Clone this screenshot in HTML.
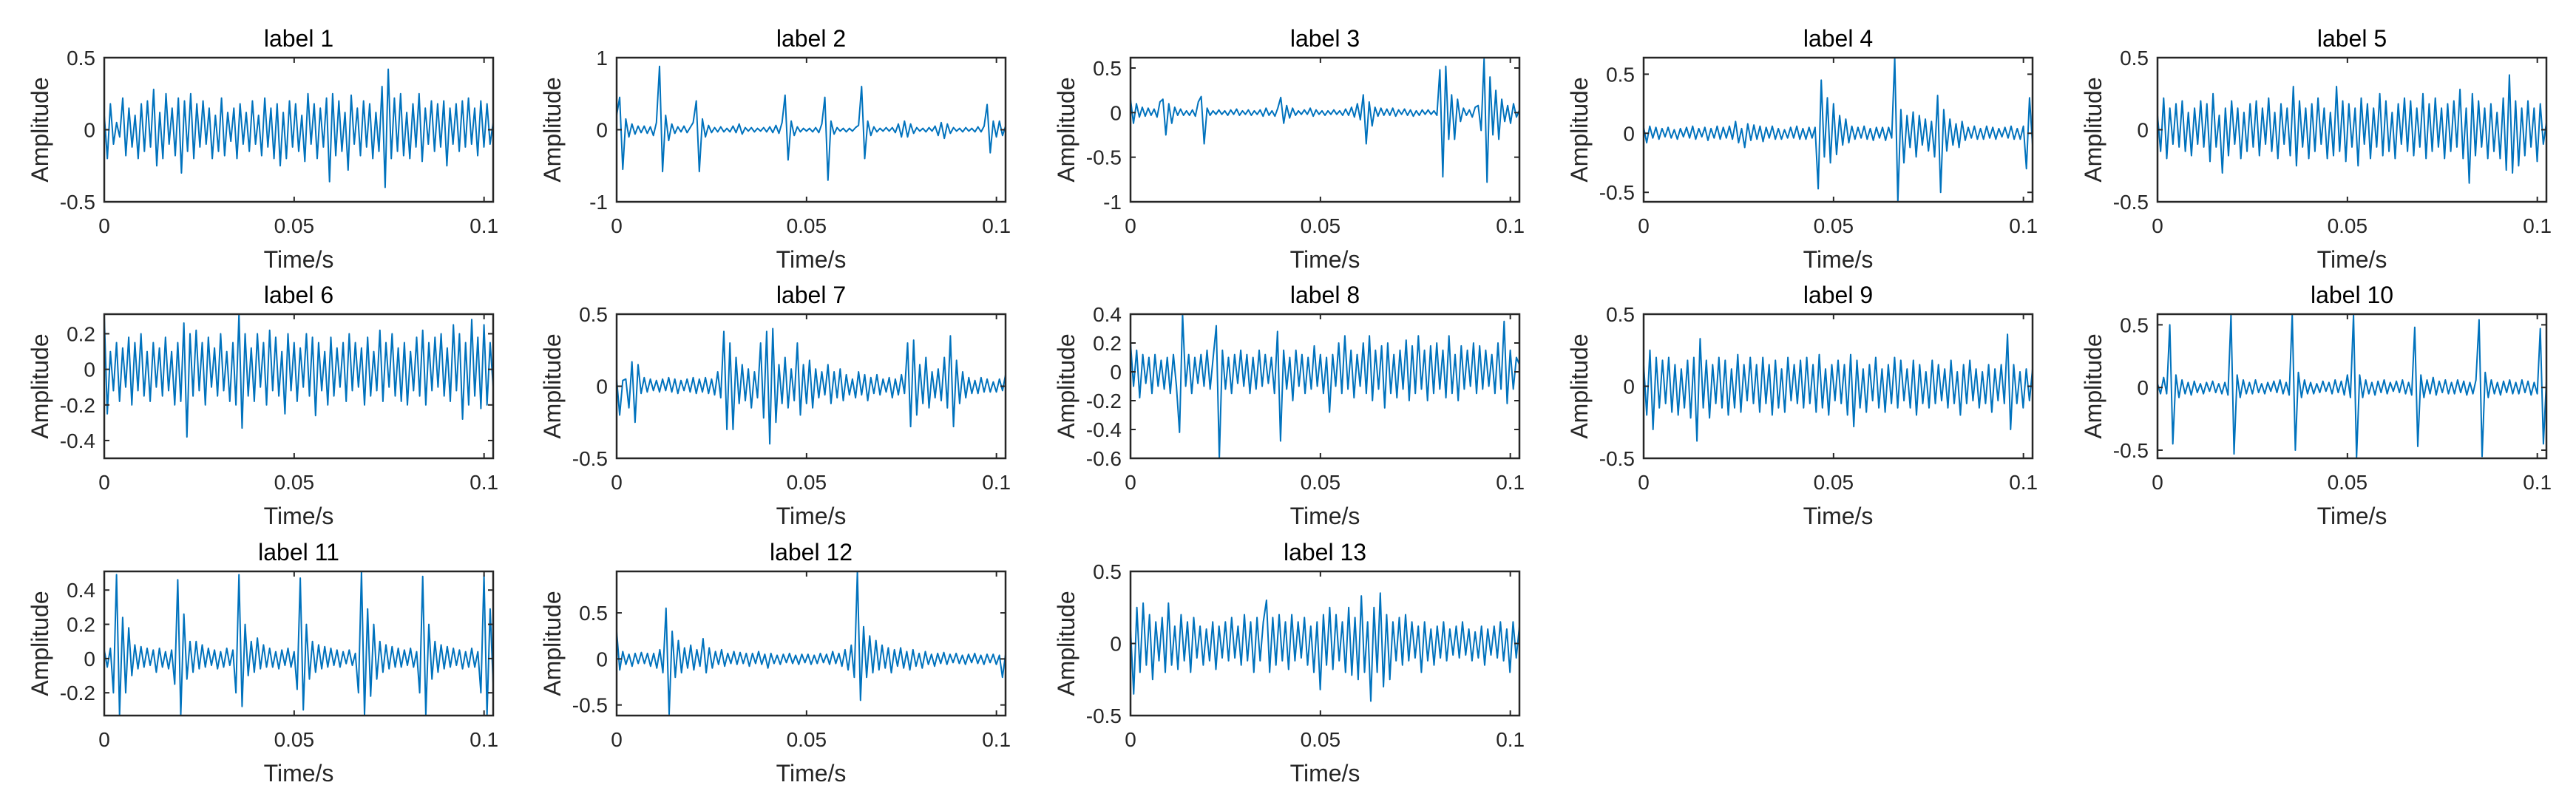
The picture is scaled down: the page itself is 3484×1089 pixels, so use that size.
<!DOCTYPE html>
<html><head><meta charset="utf-8"><style>
html,body{margin:0;padding:0;background:#fff;}
svg{display:block;font-family:"Liberation Sans",Arial,sans-serif;}
</style></head><body>
<svg id="fig" width="3484" height="1089" viewBox="0 0 3484 1089" xmlns="http://www.w3.org/2000/svg"></svg>
<script>
const titles = ["label 1","label 2","label 3","label 4","label 5","label 6","label 7","label 8","label 9","label 10","label 11","label 12","label 13"];
const xTicks = [0, 0.05, 0.1];
const xTickLabels = ["0","0.05","0.1"];
const xMax = 0.1024;
const yMins = [-0.5,-1,-1,-0.58,-0.5,-0.5,-0.5,-0.6,-0.5,-0.565,-0.333,-0.615,-0.5];
const yMaxs = [0.5,1,0.616,0.64,0.5,0.31,0.5,0.4,0.5,0.585,0.509,0.95,0.5];
const yTicks1 = [-0.5,0,0.5];
const yTicks2 = [-1,0,1];
const yTicks3 = [-1,-0.5,0,0.5];
const yTicks6 = [-0.4,-0.2,0,0.2];
const yTicks8 = [-0.6,-0.4,-0.2,0,0.2,0.4];
const yTicks11 = [-0.2,0,0.2,0.4];
const yTickSets = [yTicks1,yTicks2,yTicks3,yTicks1,yTicks1,yTicks6,yTicks1,yTicks8,yTicks1,yTicks1,yTicks11,yTicks1,yTicks1];

const s1 = [0.1,-0.2,0.18,-0.1,0.05,-0.05,0.22,-0.18,0.15,-0.12,0.1,-0.2,0.18,-0.15,0.2,-0.12,0.28,-0.25,0.12,-0.2,0.25,-0.1,0.15,-0.18,0.22,-0.3,0.2,-0.15,0.25,-0.2,0.18,-0.12,0.2,-0.1,0.15,-0.2,0.1,-0.15,0.22,-0.18,0.12,-0.08,0.15,-0.2,0.18,-0.1,0.12,-0.15,0.2,-0.1,0.1,-0.18,0.22,-0.12,0.15,-0.2,0.18,-0.25,0.12,-0.2,0.2,-0.12,0.18,-0.15,0.1,-0.22,0.25,-0.1,0.18,-0.2,0.15,-0.12,0.22,-0.36,0.25,-0.18,0.2,-0.15,0.12,-0.28,0.24,-0.1,0.15,-0.18,0.2,-0.12,0.18,-0.2,0.12,-0.15,0.3,-0.4,0.42,-0.2,0.22,-0.15,0.25,-0.18,0.12,-0.2,0.18,-0.12,0.25,-0.22,0.15,-0.1,0.2,-0.15,0.18,-0.12,0.2,-0.25,0.15,-0.1,0.18,-0.15,0.2,-0.12,0.22,-0.1,0.15,-0.18,0.2,-0.12,0.18,-0.1,0.05];
const s2 = [0.2,0.45,-0.55,0.15,-0.1,0.08,-0.06,0.05,-0.04,0.05,-0.05,0.04,-0.08,0.1,0.88,-0.58,0.2,-0.15,0.08,-0.05,0.04,-0.03,0.05,-0.04,0.03,0.1,0.4,-0.58,0.15,-0.1,0.06,-0.04,0.03,-0.03,0.04,-0.03,0.02,-0.03,0.05,-0.04,0.08,-0.06,0.03,-0.02,0.03,-0.03,0.02,-0.02,0.03,-0.03,0.04,-0.04,0.06,-0.05,0.1,0.48,-0.42,0.12,-0.08,0.04,-0.03,0.02,-0.02,0.02,-0.03,0.03,-0.04,0.08,0.45,-0.7,0.12,-0.06,0.03,-0.02,0.02,-0.03,0.02,-0.02,0.03,0.06,0.6,-0.4,0.12,-0.08,0.04,-0.03,0.02,-0.02,0.03,-0.02,0.03,-0.04,0.08,-0.1,0.12,-0.1,0.08,-0.05,0.03,-0.02,0.02,-0.03,0.03,-0.02,0.05,-0.08,0.1,-0.12,0.08,-0.05,0.03,-0.02,0.02,-0.03,0.03,-0.02,0.02,-0.03,0.04,-0.03,0.05,0.35,-0.32,0.12,-0.1,0.12,-0.08,0.05];
const s3 = [0.15,-0.12,0.1,-0.05,0.06,-0.04,0.05,-0.03,0.04,-0.05,0.12,0.15,-0.25,0.1,-0.12,0.06,-0.03,0.04,-0.03,0.02,-0.03,0.03,-0.04,0.12,0.18,-0.35,0.05,-0.03,0.02,-0.02,0.03,-0.02,0.02,-0.03,0.03,-0.02,0.04,-0.03,0.02,-0.02,0.03,-0.03,0.02,-0.02,0.03,-0.04,0.05,-0.03,0.02,-0.04,0.05,0.17,-0.12,0.08,-0.06,0.05,-0.03,0.02,-0.02,0.03,-0.02,0.05,-0.04,0.03,-0.02,0.02,-0.03,0.02,-0.02,0.03,-0.02,0.02,-0.03,0.04,-0.03,0.06,-0.05,0.1,-0.08,0.2,-0.35,0.12,-0.15,0.06,-0.04,0.05,-0.03,0.04,-0.03,0.05,-0.04,0.03,-0.02,0.04,-0.03,0.03,-0.04,0.02,-0.03,0.03,-0.02,0.03,-0.02,0.02,-0.03,0.48,-0.72,0.52,-0.3,0.2,-0.3,0.15,-0.1,0.05,-0.03,0.03,-0.05,0.06,0.08,-0.2,0.6,-0.78,0.4,-0.25,0.25,-0.3,0.15,-0.1,0.08,-0.12,0.1,-0.05,0.03];
const s4 = [0.05,-0.08,0.06,-0.04,0.05,-0.05,0.04,-0.03,0.05,-0.04,0.03,-0.05,0.04,-0.03,0.05,-0.04,0.06,-0.05,0.04,-0.03,0.05,-0.06,0.04,-0.04,0.06,-0.05,0.05,-0.04,0.06,-0.05,0.1,-0.08,0.04,-0.12,0.08,-0.06,0.07,-0.05,0.06,-0.07,0.05,-0.04,0.06,-0.05,0.04,-0.05,0.03,-0.04,0.05,-0.04,0.06,-0.05,0.04,-0.05,0.05,-0.04,0.05,-0.47,0.45,-0.2,0.3,-0.25,0.25,-0.18,0.15,-0.1,0.12,-0.08,0.06,-0.05,0.05,-0.04,0.06,-0.05,0.04,-0.06,0.05,-0.04,0.05,-0.06,0.05,-0.04,0.64,-0.58,0.2,-0.25,0.15,-0.12,0.18,-0.2,0.15,-0.1,0.12,-0.15,0.1,-0.2,0.32,-0.5,0.2,-0.15,0.12,-0.1,0.08,-0.12,0.1,-0.06,0.05,-0.04,0.06,-0.05,0.04,-0.05,0.06,-0.04,0.05,-0.05,0.04,-0.03,0.05,-0.04,0.06,-0.05,0.04,-0.05,0.06,-0.3,0.3,-0.1];
const s5 = [0.1,-0.15,0.22,-0.2,0.15,-0.1,0.18,-0.12,0.2,-0.15,0.12,-0.18,0.15,-0.1,0.2,-0.12,0.18,-0.22,0.25,-0.12,0.1,-0.3,0.15,-0.18,0.2,-0.1,0.15,-0.2,0.12,-0.15,0.18,-0.12,0.2,-0.18,0.15,-0.1,0.22,-0.15,0.12,-0.2,0.18,-0.1,0.15,-0.18,0.3,-0.25,0.2,-0.12,0.15,-0.2,0.18,-0.15,0.22,-0.1,0.15,-0.2,0.12,-0.18,0.3,-0.15,0.2,-0.22,0.18,-0.12,0.15,-0.25,0.22,-0.1,0.18,-0.2,0.15,-0.12,0.25,-0.18,0.2,-0.15,0.12,-0.2,0.18,-0.1,0.22,-0.15,0.2,-0.18,0.15,-0.12,0.25,-0.2,0.18,-0.15,0.22,-0.12,0.15,-0.2,0.18,-0.15,0.2,-0.12,0.28,-0.2,0.15,-0.37,0.25,-0.18,0.2,-0.12,0.15,-0.2,0.18,-0.15,0.12,-0.2,0.22,-0.28,0.38,-0.3,0.2,-0.25,0.15,-0.18,0.2,-0.12,0.15,-0.22,0.18,-0.1,0.05];
const s6 = [0.3,-0.25,0.1,-0.12,0.15,-0.18,0.12,-0.1,0.18,-0.2,0.15,-0.12,0.2,-0.15,0.1,-0.18,0.15,-0.1,0.12,-0.15,0.18,-0.12,0.1,-0.2,0.15,-0.18,0.26,-0.38,0.2,-0.15,0.22,-0.12,0.15,-0.2,0.18,-0.1,0.12,-0.15,0.2,-0.12,0.1,-0.18,0.15,-0.2,0.31,-0.33,0.2,-0.15,0.12,-0.18,0.2,-0.1,0.15,-0.2,0.22,-0.12,0.18,-0.15,0.1,-0.25,0.2,-0.12,0.15,-0.18,0.12,-0.1,0.2,-0.15,0.18,-0.26,0.15,-0.12,0.1,-0.2,0.18,-0.15,0.12,-0.1,0.15,-0.18,0.2,-0.12,0.15,-0.1,0.12,-0.2,0.18,-0.15,0.1,-0.12,0.22,-0.18,0.15,-0.1,0.2,-0.15,0.12,-0.18,0.15,-0.2,0.1,-0.12,0.18,-0.15,0.22,-0.2,0.15,-0.12,0.18,-0.1,0.2,-0.15,0.12,-0.18,0.25,-0.12,0.2,-0.28,0.15,-0.2,0.28,-0.15,0.18,-0.22,0.25,-0.2,0.15,-0.1];
const s7 = [0.05,-0.2,0.04,0.05,-0.15,0.17,-0.25,0.15,-0.05,0.06,-0.04,0.05,-0.03,0.04,-0.04,0.05,-0.03,0.06,-0.04,0.05,-0.05,0.04,-0.03,0.05,-0.04,0.06,-0.05,0.05,-0.04,0.06,-0.05,0.05,-0.06,0.1,-0.08,0.38,-0.3,0.3,-0.3,0.2,-0.12,0.15,-0.1,0.12,-0.15,0.1,-0.08,0.3,-0.22,0.38,-0.4,0.4,-0.25,0.15,-0.12,0.2,-0.15,0.12,-0.1,0.3,-0.2,0.15,-0.12,0.18,-0.15,0.12,-0.08,0.1,-0.06,0.15,-0.12,0.1,-0.08,0.12,-0.1,0.08,-0.06,0.05,-0.08,0.1,-0.06,0.08,-0.1,0.06,-0.05,0.08,-0.06,0.05,-0.04,0.06,-0.08,0.05,-0.06,0.08,-0.05,0.3,-0.28,0.32,-0.2,0.15,-0.12,0.2,-0.15,0.1,-0.08,0.12,-0.1,0.2,-0.15,0.35,-0.28,0.18,-0.12,0.1,-0.08,0.06,-0.05,0.04,-0.05,0.06,-0.04,0.05,-0.04,0.03,-0.04,0.05,-0.03,0.08];
const s8 = [0.2,-0.1,0.15,-0.18,0.12,-0.08,0.1,-0.15,0.12,-0.1,0.08,-0.12,0.1,-0.15,0.12,-0.1,-0.42,0.4,-0.1,0.12,-0.15,0.1,-0.08,0.12,-0.1,0.15,-0.12,0.1,0.32,-0.6,0.15,-0.12,0.1,-0.15,0.12,-0.08,0.15,-0.1,0.12,-0.15,0.1,-0.12,0.15,-0.1,0.12,-0.08,0.1,-0.15,0.28,-0.48,0.15,-0.12,0.1,-0.2,0.15,-0.1,0.12,-0.15,0.1,-0.12,0.18,-0.1,0.12,-0.15,0.1,-0.28,0.12,-0.1,0.2,-0.15,0.25,-0.12,0.15,-0.18,0.12,-0.1,0.2,-0.15,0.25,-0.2,0.15,-0.12,0.18,-0.25,0.2,-0.15,0.12,-0.18,0.15,-0.12,0.22,-0.2,0.18,-0.15,0.25,-0.12,0.15,-0.2,0.18,-0.15,0.2,-0.12,0.15,-0.18,0.25,-0.15,0.12,-0.2,0.18,-0.12,0.15,-0.1,0.2,-0.15,0.18,-0.12,0.15,-0.1,0.12,-0.15,0.2,-0.12,0.35,-0.22,0.15,-0.12,0.1,0.05];
const s9 = [0.15,-0.2,0.25,-0.3,0.2,-0.15,0.18,-0.12,0.2,-0.18,0.15,-0.2,0.12,-0.15,0.18,-0.22,0.2,-0.38,0.33,-0.15,0.18,-0.22,0.15,-0.12,0.2,-0.15,0.18,-0.2,0.12,-0.15,0.22,-0.18,0.15,-0.1,0.2,-0.12,0.15,-0.18,0.2,-0.12,0.15,-0.2,0.18,-0.15,0.12,-0.18,0.2,-0.1,0.15,-0.12,0.18,-0.15,0.2,-0.12,0.15,-0.18,0.22,-0.15,0.12,-0.2,0.15,-0.1,0.18,-0.12,0.15,-0.2,0.22,-0.28,0.18,-0.15,0.12,-0.18,0.15,-0.1,0.2,-0.15,0.12,-0.18,0.15,-0.12,0.2,-0.15,0.18,-0.1,0.12,-0.15,0.18,-0.2,0.15,-0.12,0.1,-0.15,0.18,-0.12,0.15,-0.1,0.12,-0.15,0.18,-0.12,0.1,-0.2,0.15,-0.12,0.18,-0.1,0.12,-0.15,0.1,-0.12,0.15,-0.18,0.12,-0.1,0.15,-0.12,0.36,-0.3,0.15,-0.12,0.1,-0.15,0.12,-0.1,0.12];
const s10 = [0.03,-0.05,0.08,-0.05,0.5,-0.45,0.1,-0.08,0.06,-0.05,0.04,-0.06,0.05,-0.04,0.03,-0.05,0.04,-0.03,0.05,-0.04,0.03,-0.05,0.04,-0.06,0.58,-0.53,0.1,-0.08,0.06,-0.05,0.04,-0.05,0.06,-0.04,0.03,-0.05,0.04,-0.03,0.05,-0.04,0.06,-0.05,0.04,-0.06,0.58,-0.5,0.12,-0.08,0.06,-0.05,0.04,-0.05,0.03,-0.04,0.05,-0.03,0.04,-0.05,0.06,-0.04,0.05,-0.06,0.1,-0.08,0.58,-0.56,0.1,-0.08,0.06,-0.05,0.04,-0.06,0.05,-0.04,0.06,-0.05,0.04,-0.03,0.05,-0.04,0.06,-0.05,0.04,-0.06,0.48,-0.47,0.1,-0.08,0.06,-0.05,0.08,-0.06,0.05,-0.04,0.06,-0.05,0.04,-0.05,0.06,-0.04,0.05,-0.06,0.04,-0.05,0.06,0.54,-0.55,0.12,-0.08,0.06,-0.05,0.04,-0.06,0.05,-0.04,0.06,-0.05,0.04,-0.05,0.06,-0.04,0.05,-0.06,0.04,-0.05,0.47,-0.45,0.05];
const s11 = [0.05,-0.05,0.06,-0.2,0.49,-0.33,0.24,-0.2,0.18,-0.1,0.08,-0.06,0.07,-0.05,0.06,-0.04,0.05,-0.08,0.06,-0.05,0.04,-0.06,0.05,-0.15,0.46,-0.33,0.26,-0.12,0.1,-0.08,0.1,-0.06,0.08,-0.05,0.06,-0.04,0.05,-0.06,0.04,-0.05,0.06,-0.04,0.05,-0.2,0.49,-0.28,0.2,-0.1,0.1,-0.08,0.12,-0.06,0.08,-0.05,0.06,-0.05,0.04,-0.06,0.05,-0.04,0.06,-0.05,0.04,-0.18,0.47,-0.3,0.2,-0.12,0.1,-0.08,0.08,-0.06,0.07,-0.05,0.06,-0.04,0.05,-0.05,0.04,-0.03,0.05,-0.04,0.03,-0.2,0.51,-0.33,0.29,-0.22,0.2,-0.12,0.1,-0.08,0.08,-0.06,0.07,-0.05,0.06,-0.05,0.05,-0.04,0.06,-0.05,0.04,-0.2,0.48,-0.33,0.2,-0.12,0.1,-0.08,0.08,-0.06,0.07,-0.05,0.06,-0.04,0.05,-0.06,0.04,-0.05,0.06,-0.05,0.04,-0.2,0.49,-0.33,0.29,-0.15];
const s12 = [0.3,-0.12,0.08,-0.06,0.05,-0.08,0.06,-0.05,0.07,-0.05,0.06,-0.08,0.06,-0.1,0.1,-0.15,0.55,-0.6,0.3,-0.2,0.2,-0.15,0.12,-0.1,0.15,-0.12,0.1,-0.08,0.22,-0.15,0.12,-0.1,0.08,-0.06,0.1,-0.08,0.06,-0.05,0.08,-0.06,0.07,-0.05,0.06,-0.08,0.06,-0.05,0.08,-0.06,0.05,-0.1,0.06,-0.05,0.04,-0.06,0.05,-0.04,0.06,-0.05,0.04,-0.06,0.05,-0.04,0.05,-0.06,0.04,-0.05,0.06,-0.04,0.05,-0.06,0.08,-0.05,0.06,-0.08,0.1,-0.12,0.15,-0.2,0.95,-0.45,0.35,-0.2,0.25,-0.15,0.2,-0.12,0.15,-0.1,0.12,-0.15,0.1,-0.08,0.12,-0.1,0.08,-0.12,0.1,-0.08,0.06,-0.1,0.08,-0.06,0.05,-0.08,0.06,-0.05,0.07,-0.06,0.05,-0.04,0.06,-0.05,0.04,-0.06,0.05,-0.04,0.06,-0.05,0.04,-0.06,0.05,-0.04,0.05,-0.06,0.04,-0.2,0.05];
const s13 = [0.1,-0.35,0.25,-0.2,0.28,-0.15,0.2,-0.25,0.15,-0.12,0.18,-0.2,0.28,-0.15,0.12,-0.18,0.2,-0.12,0.15,-0.2,0.18,-0.1,0.12,-0.15,0.1,-0.12,0.15,-0.18,0.12,-0.1,0.15,-0.12,0.18,-0.1,0.12,-0.15,0.2,-0.12,0.15,-0.2,0.18,-0.12,0.15,0.3,-0.2,0.18,-0.15,0.2,-0.12,0.15,-0.18,0.2,-0.12,0.15,-0.1,0.18,-0.15,0.12,-0.2,0.15,-0.32,0.2,-0.15,0.25,-0.18,0.2,-0.12,0.15,-0.2,0.25,-0.22,0.18,-0.25,0.33,-0.2,0.15,-0.4,0.25,-0.2,0.35,-0.3,0.2,-0.25,0.15,-0.12,0.18,-0.15,0.2,-0.12,0.15,-0.1,0.12,-0.2,0.15,-0.12,0.1,-0.15,0.12,-0.1,0.15,-0.12,0.1,-0.08,0.12,-0.1,0.15,-0.08,0.1,-0.12,0.08,-0.1,0.12,-0.15,0.1,-0.08,0.12,-0.1,0.15,-0.12,0.1,-0.2,0.15,-0.1,0.12];
const seriesList = [s1,s2,s3,s4,s5,s6,s7,s8,s9,s10,s11,s12,s13];

const NS = "http://www.w3.org/2000/svg";
const svg = document.getElementById('fig');
const colLeft = [141, 834, 1529, 2223, 2918];
const rowTop = [78, 425, 773];
const PW = 526, PH = 195;
const AX = "#262626";
function mk(tag, attrs, parent) {
  const e = document.createElementNS(NS, tag);
  for (const k in attrs) e.setAttribute(k, attrs[k]);
  parent.appendChild(e);
  return e;
}
function fmt(v) { return String(Math.round(v * 100) / 100); }

seriesList.forEach((data, p) => {
  const L = colLeft[p % 5], T = rowTop[Math.floor(p / 5)];
  const ymin = yMins[p], ymax = yMaxs[p];
  const xs = t => L + t / xMax * PW;
  const ys = v => T + (ymax - v) / (ymax - ymin) * PH;
  const g = mk('g', {}, svg);
  
  

  const clipId = 'clip' + p;
  const cp = mk('clipPath', {id: clipId}, g);
  mk('rect', {x: L, y: T, width: PW, height: PH}, cp);

  let d = '';
  data.forEach((v, i) => {
    const t = i * xMax / (data.length - 1);
    d += (i ? 'L' : 'M') + xs(t).toFixed(1) + ',' + ys(v).toFixed(1);
  });
  const line = mk('path', {d: d, fill: 'none', stroke: '#0072BD', 'stroke-width': 2, 'stroke-linejoin': 'round', 'clip-path': 'url(#' + clipId + ')'}, g);
  
  

  const box = mk('rect', {x: L, y: T, width: PW, height: PH, fill: 'none', stroke: AX, 'stroke-width': 2.5}, g);
  
  

  xTicks.forEach((tv, k) => {
    const x = xs(tv);
    mk('line', {x1: x, y1: T + PH, x2: x, y2: T + PH - 7, stroke: AX, 'stroke-width': 2}, g);
    mk('line', {x1: x, y1: T, x2: x, y2: T + 7, stroke: AX, 'stroke-width': 2}, g);
    const tx = mk('text', {x: x, y: T + PH + 42, 'text-anchor': 'middle', 'font-size': 28, fill: AX}, g);
    tx.textContent = xTickLabels[k];
    
    
  });
  yTickSets[p].forEach(tv => {
    const y = ys(tv);
    mk('line', {x1: L, y1: y, x2: L + 7, y2: y, stroke: AX, 'stroke-width': 2}, g);
    mk('line', {x1: L + PW, y1: y, x2: L + PW - 7, y2: y, stroke: AX, 'stroke-width': 2}, g);
    const ty = mk('text', {x: L - 12, y: y + 10, 'text-anchor': 'end', 'font-size': 28, fill: AX}, g);
    ty.textContent = fmt(tv);
    
    
  });
  const tt = mk('text', {x: L + PW / 2, y: T - 15, 'text-anchor': 'middle', 'font-size': 32, fill: '#000'}, g);
  tt.textContent = titles[p];
  
  
  const xl = mk('text', {x: L + PW / 2, y: T + PH + 89, 'text-anchor': 'middle', 'font-size': 32, fill: AX}, g);
  xl.textContent = 'Time/s';
  
  
  const cx = L - 76, cy = T + PH / 2;
  const yl = mk('text', {x: cx, y: cy, 'text-anchor': 'middle', 'font-size': 32, fill: AX, transform: 'rotate(-90 ' + cx + ' ' + cy + ')'}, g);
  yl.textContent = 'Amplitude';
  
  
});
</script>
</body></html>
